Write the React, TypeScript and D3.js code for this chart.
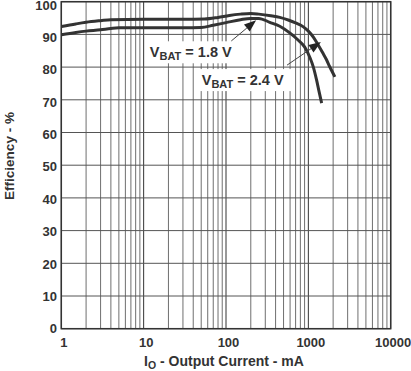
import { useEffect, useRef } from "react";
import * as d3 from "d3";

// efficiency vs output current
const xTickLabels = [1, 10, 100, 1000, 10000];
const yTickLabels = [0, 10, 20, 30, 40, 50, 60, 70, 80, 90, 100];

const current24 = [1, 1.5, 2, 3, 4, 10, 30, 55, 80, 110, 150, 200, 250, 350, 450, 570, 700, 870, 1000, 1150, 1300, 1500, 1650, 1820, 2100];
const eff24 = [92.4, 93.2, 93.7, 94.2, 94.5, 94.6, 94.6, 94.7, 95.2, 95.8, 96.2, 96.4, 96.2, 95.7, 95.2, 94.4, 93.5, 92.3, 91.0, 89.2, 87.0, 84.3, 82.4, 80.1, 77.0];

const current18 = [1, 1.5, 2, 3, 4, 5, 10, 30, 50, 70, 100, 150, 200, 250, 340, 450, 600, 750, 900, 1050, 1150, 1260, 1350, 1450];
const eff18 = [89.9, 90.6, 91.0, 91.4, 91.8, 92.0, 92.0, 92.0, 92.1, 92.8, 93.6, 94.5, 94.9, 94.9, 93.7, 92.5, 90.4, 88.3, 86.2, 82.8, 80.0, 76.0, 72.5, 69.0];

// annotation anchors in data units: [mA, %]
const notes = [
  { value: "1.8 V", at: [11.9, 83.0], tail: [116, 88.0], tip: [232, 94.3] },
  { value: "2.4 V", at: [50.7, 74.5], tail: [551, 80.6], tip: [1420, 87.7] },
];

const FONT = "'Liberation Sans', Arial, Helvetica, sans-serif";
const INK = "#333";

export default function App() {
  const svgRef = useRef<SVGSVGElement>(null);

  useEffect(() => {
    const svg = d3.select(svgRef.current);
    svg.selectAll("*").remove();

    const margin = { top: 1.7, left: 61.3 };
    const width = 329.4;
    const height = 327;

    const x = d3.scaleLog().domain([1, 10000]).range([margin.left, margin.left + width]);
    const y = d3.scaleLinear().domain([0, 100]).range([margin.top + height, margin.top]);

    // grid
    const grid = svg.append("g");
    grid
      .selectAll("line.v")
      .data(x.ticks())
      .enter()
      .append("line")
      .attr("x1", (d) => x(d))
      .attr("x2", (d) => x(d))
      .attr("y1", y(0))
      .attr("y2", y(100))
      .attr("stroke", (d) => (xTickLabels.includes(d) ? "#333" : "#6f6f6f"))
      .attr("stroke-width", 1);
    grid
      .selectAll("line.h")
      .data(yTickLabels)
      .enter()
      .append("line")
      .attr("x1", x(1))
      .attr("x2", x(10000))
      .attr("y1", (d) => y(d))
      .attr("y2", (d) => y(d))
      .attr("stroke", "#555")
      .attr("stroke-width", 1);

    // label backgrounds + labels
    const labelG = svg.append("g");
    notes.forEach((n) => {
      const t = labelG
        .append("text")
        .attr("x", x(n.at[0]))
        .attr("y", y(n.at[1]))
        .attr("font-family", FONT)
        .attr("font-weight", "bold")
        .attr("font-size", 14.5)
        .attr("fill", INK);
      t.append("tspan").text("V");
      t.append("tspan").attr("dy", 3).attr("font-size", 11).text("BAT");
      t.append("tspan").attr("dy", -3).text(" = " + n.value);
      const bb = (t.node() as SVGTextElement).getBBox();
      labelG
        .insert("rect", () => t.node())
        .attr("x", bb.x - 4)
        .attr("y", bb.y - 3)
        .attr("width", bb.width + 12)
        .attr("height", bb.height + 4)
        .attr("fill", "#fff");
    });

    // curves
    const line = d3
      .line<[number, number]>()
      .x((d) => x(d[0]))
      .y((d) => y(d[1]))
      .curve(d3.curveMonotoneX);
    const series = [
      d3.zip(current24, eff24) as [number, number][],
      d3.zip(current18, eff18) as [number, number][],
    ];
    svg
      .selectAll("path.curve")
      .data(series)
      .enter()
      .append("path")
      .attr("d", (d) => line(d))
      .attr("fill", "none")
      .attr("stroke", "#333")
      .attr("stroke-width", 3)
      .attr("stroke-linejoin", "round");

    // arrows
    notes.forEach((n) => {
      const x0 = x(n.tail[0]), y0 = y(n.tail[1]);
      const x1 = x(n.tip[0]), y1 = y(n.tip[1]);
      const a = Math.atan2(y1 - y0, x1 - x0);
      const len = 12, half = 4.5;
      const bx = x1 - len * Math.cos(a), by = y1 - len * Math.sin(a);
      svg
        .append("line")
        .attr("x1", x0)
        .attr("y1", y0)
        .attr("x2", bx)
        .attr("y2", by)
        .attr("stroke", "#444")
        .attr("stroke-width", 1);
      const pts = [
        [x1, y1],
        [bx + half * Math.sin(a), by - half * Math.cos(a)],
        [bx - half * Math.sin(a), by + half * Math.cos(a)],
      ];
      svg.append("polygon").attr("points", pts.map((p) => p.join(",")).join(" ")).attr("fill", "#222");
    });

    // frame
    svg
      .append("rect")
      .attr("x", x(1))
      .attr("y", y(100))
      .attr("width", x(10000) - x(1))
      .attr("height", y(0) - y(100))
      .attr("fill", "none")
      .attr("stroke", "#333")
      .attr("stroke-width", 1.5);

    // tick labels (the scan sits them slightly low towards the top)
    svg
      .append("g")
      .selectAll("text")
      .data(yTickLabels)
      .enter()
      .append("text")
      .attr("x", 57)
      .attr("y", (d) => y(d) + 4.5 + d * 0.035)
      .attr("text-anchor", "end")
      .attr("font-family", FONT)
      .attr("font-weight", "bold")
      .attr("font-size", 13)
      .attr("fill", INK)
      .text((d) => d);
    svg
      .append("g")
      .selectAll("text")
      .data(xTickLabels)
      .enter()
      .append("text")
      .attr("x", (d) => x(d) + 2.5)
      .attr("y", 346.5)
      .attr("text-anchor", "middle")
      .attr("font-family", FONT)
      .attr("font-weight", "bold")
      .attr("font-size", 13)
      .attr("fill", INK)
      .text((d) => d);

    // axis titles
    const xt = svg
      .append("text")
      .attr("x", 224)
      .attr("y", 366)
      .attr("text-anchor", "middle")
      .attr("font-family", FONT)
      .attr("font-weight", "bold")
      .attr("font-size", 14)
      .attr("fill", INK);
    xt.append("tspan").text("I");
    xt.append("tspan").attr("dy", 2.5).attr("font-size", 10.5).text("O");
    xt.append("tspan").attr("dy", -2.5).text(" - Output Current - mA");

    svg
      .append("text")
      .attr("transform", "translate(13.5,156) rotate(-90)")
      .attr("text-anchor", "middle")
      .attr("font-family", FONT)
      .attr("font-weight", "bold")
      .attr("font-size", 13.5)
      .attr("fill", INK)
      .text("Efficiency - %");
  }, []);

  return (
    <div style={{ position: "absolute", left: 0, top: 0 }}>
      <svg ref={svgRef} width={411} height={371} style={{ display: "block", background: "#fff" }} />
    </div>
  );
}
